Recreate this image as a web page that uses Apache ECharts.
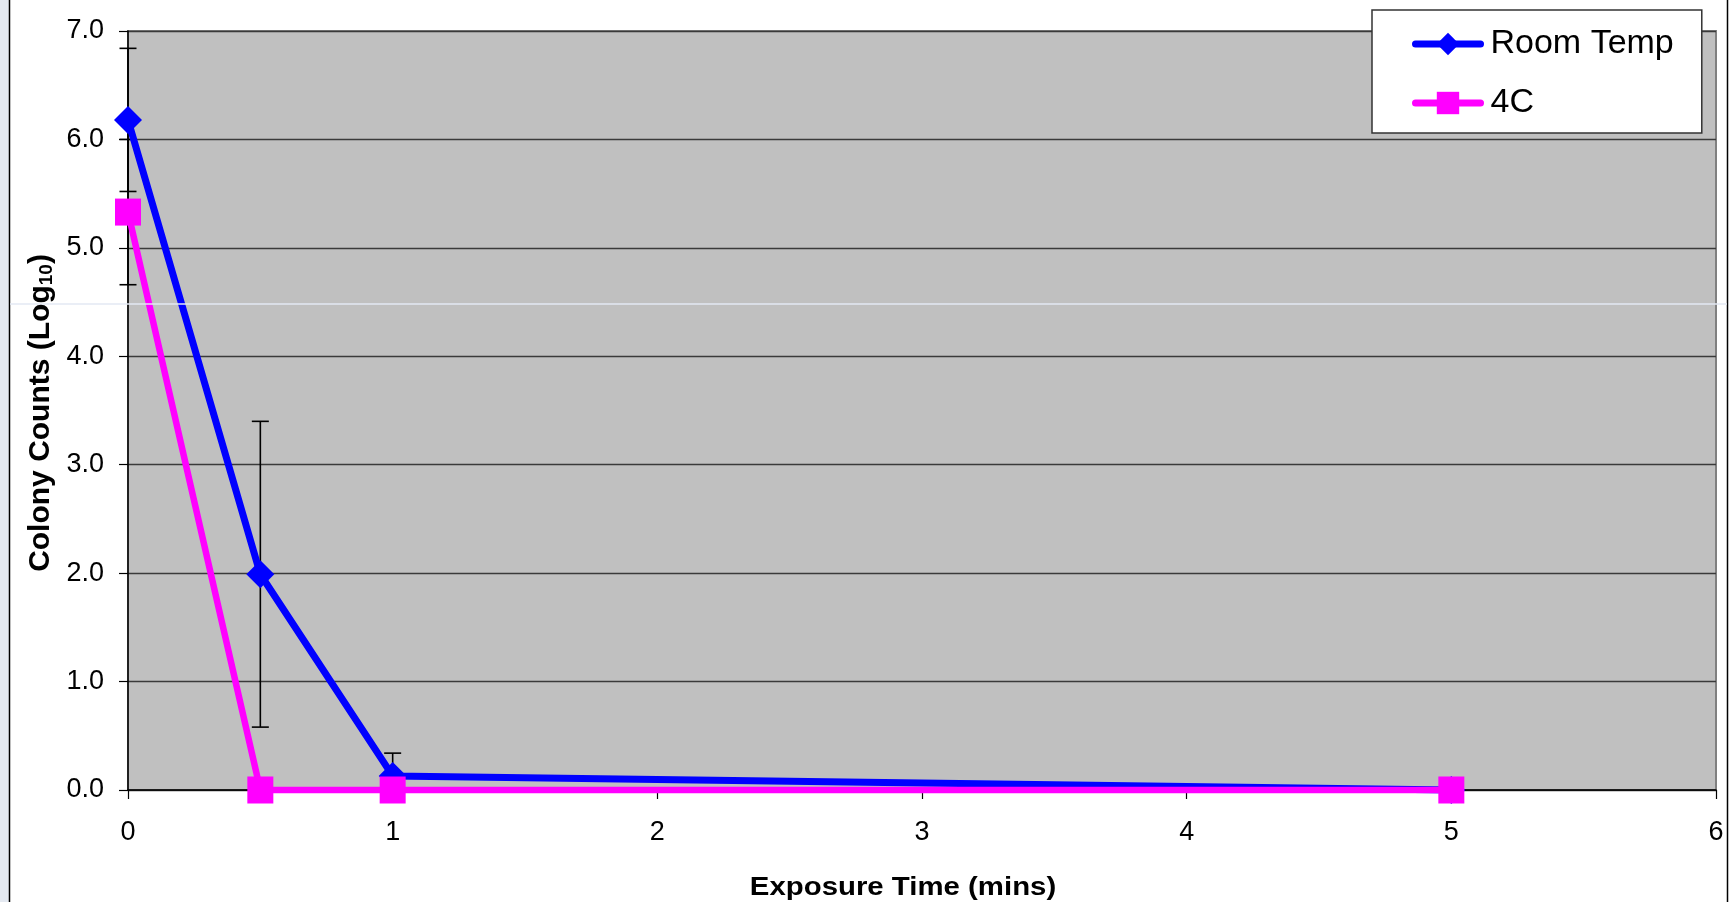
<!DOCTYPE html>
<html><head><meta charset="utf-8">
<script src="https://cdn.jsdelivr.net/npm/echarts@6/dist/echarts.min.js"></script>
<style>html,body{margin:0;padding:0;background:#fff;overflow:hidden}#chart{width:1732px;height:902px}</style>
</head><body><div id="chart"></div>
<script>
// ---- data ----
const seriesNames = ['Room Temp', '4C'];
const exposureTimes = [0, 0.5, 1, 5];
const roomTempValues = [6.18, 1.99, 0.13, 0.0];
const roomTempErrors = [0.66, 1.41, 0.21, 0];
const coldValues = [5.33, 0.0, 0.0, 0.0];
const coldErrors = [0.67, 0, 0, 0];
const yTickLabels = ['0.0', '1.0', '2.0', '3.0', '4.0', '5.0', '6.0', '7.0'];
const xTickLabels = ['0', '1', '2', '3', '4', '5', '6'];
const xTitle = 'Exposure Time (mins)';
const yTitleMain = 'Colony Counts (Log';
const yTitleSub = '10';

const FONT = "'Liberation Sans', Arial, sans-serif";
const chart = echarts.init(document.getElementById('chart'), null, {renderer: 'canvas'});

function toPoints(vals) { return exposureTimes.map((t, i) => [t, vals[i]]); }
function toErr(vals, errs) { return exposureTimes.map((t, i) => [t, vals[i], errs[i]]); }

function renderErr(params, api) {
  const x = api.value(0), y = api.value(1), e = api.value(2);
  if (!e) return null;
  const top = api.coord([x, y + e]);
  const bot = api.coord([x, y - e]);
  const hw = 8.5;
  const st = {stroke: '#000', lineWidth: 1.6};
  return {type: 'group', children: [
    {type: 'line', shape: {x1: top[0], y1: top[1], x2: bot[0], y2: bot[1]}, style: st},
    {type: 'line', shape: {x1: top[0] - hw, y1: top[1], x2: top[0] + hw, y2: top[1]}, style: st},
    {type: 'line', shape: {x1: bot[0] - hw, y1: bot[1], x2: bot[0] + hw, y2: bot[1]}, style: st}
  ]};
}

const option = {
  animation: false,
  backgroundColor: '#ffffff',
  grid: {left: 128, top: 31, right: 16, bottom: 112, show: true,
         backgroundColor: '#C0C0C0', borderColor: '#808080', borderWidth: 2, containLabel: false},
  xAxis: {
    type: 'value', min: 0, max: 6, interval: 1,
    axisLine: {show: true, onZero: false, lineStyle: {color: '#000', width: 1.5}},
    axisTick: {show: true, length: 9, lineStyle: {color: '#000', width: 1.2}},
    axisLabel: {fontSize: 27, color: '#000', fontFamily: FONT, margin: 29,
                formatter: v => xTickLabels[Math.round(v)]},
    splitLine: {show: false}
  },
  yAxis: {
    type: 'value', min: 0, max: 7, interval: 1,
    axisLine: {show: true, lineStyle: {color: '#000', width: 1.5}},
    axisTick: {show: true, length: 9, lineStyle: {color: '#000', width: 1.2}},
    axisLabel: {fontSize: 27, color: '#000', fontFamily: FONT, margin: 24,
                formatter: v => yTickLabels[Math.round(v)]},
    splitLine: {show: true, lineStyle: {color: '#3a3a3a', width: 1.3}}
  },
  legend: {
    orient: 'vertical', left: 1372, top: 10,
    padding: [17, 28, 13, 40],
    itemWidth: 65, itemHeight: 28, itemGap: 25,
    backgroundColor: '#fff', borderColor: '#333', borderWidth: 1.5, borderRadius: 0,
    textStyle: {fontSize: 34, color: '#000', fontFamily: FONT, padding: [0, 0, 0, 5]},
    lineStyle: {width: 7, cap: 'round'},
    data: seriesNames
  },
  series: [
    {type: 'custom', name: 'errRoom', renderItem: renderErr, data: toErr(roomTempValues, roomTempErrors), z: 1, silent: true},
    {type: 'custom', name: 'errCold', renderItem: renderErr, data: toErr(coldValues, coldErrors), z: 1, silent: true},
    {type: 'line', name: seriesNames[0], data: toPoints(roomTempValues), clip: false, z: 3,
     symbol: 'diamond', symbolSize: 28,
     lineStyle: {color: '#0000FF', width: 7}, itemStyle: {color: '#0000FF'}},
    {type: 'line', name: seriesNames[1], data: toPoints(coldValues), clip: false, z: 4,
     symbol: 'rect', symbolSize: [26, 27],
     lineStyle: {color: '#FF00FF', width: 6.5}, itemStyle: {color: '#FF00FF'}}
  ],
  graphic: [
    {type: 'rect', shape: {x: 0, y: 0, width: 9, height: 902}, style: {fill: '#E4E9F1'}, z: 100},
    {type: 'line', shape: {x1: 9.5, y1: 0, x2: 9.5, y2: 902}, style: {stroke: '#000', lineWidth: 1.5}, z: 100},
    {type: 'line', shape: {x1: 1727.5, y1: 0, x2: 1727.5, y2: 902}, style: {stroke: '#000', lineWidth: 1.5}, z: 100},
    {type: 'line', shape: {x1: 10, y1: 304, x2: 1727, y2: 304}, style: {stroke: '#E3E9F3', lineWidth: 1.5}, z: 100},
    {type: 'text', x: 903, y: 888, scaleX: 1.13, z: 100,
     style: {text: xTitle, font: 'bold 26px ' + FONT, fill: '#000', textAlign: 'center', textVerticalAlign: 'middle'}},
    {type: 'text', x: 41, y: 413, rotation: Math.PI / 2, z: 100,
     style: {text: '{a|' + yTitleMain + '}{b|' + yTitleSub + '}{a|)}', textAlign: 'center', textVerticalAlign: 'middle', fill: '#000',
       rich: {a: {font: 'bold 30px ' + FONT, fill: '#000'},
              b: {font: 'bold 19px ' + FONT, fill: '#000', verticalAlign: 'bottom'}}}}
  ]
};
chart.setOption(option);
</script>
</body></html>
